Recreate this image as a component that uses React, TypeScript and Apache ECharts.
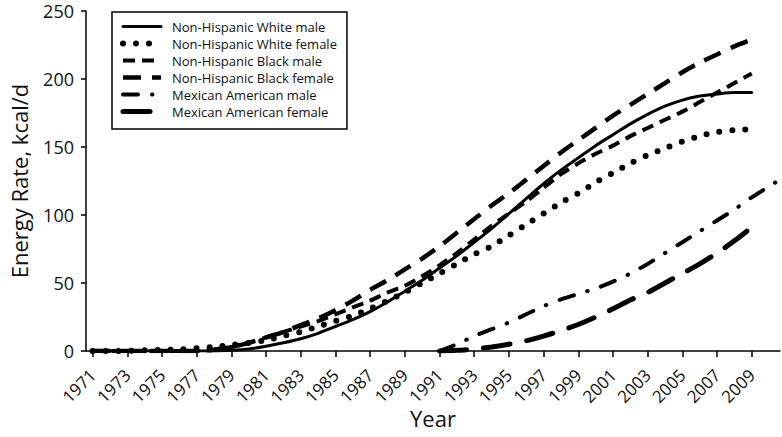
import React, { useEffect, useRef } from "react";
import * as echarts from "echarts";

const years = [1971,1972,1973,1974,1975,1976,1977,1978,1979,1980,1981,1982,1983,1984,1985,1986,1987,1988,1989,1990,1991,1992,1993,1994,1995,1996,1997,1998,1999,2000,2001,2002,2003,2004,2005,2006,2007,2008,2009];
const maleMaYears = [1991,1992,1993,1994,1995,1996,1997,1998,1999,2000,2001,2002,2003,2004,2005,2006,2007,2008,2009,2010,2011];
const femaleMaYears = [1991,1992,1993,1994,1995,1996,1997,1998,1999,2000,2001,2002,2003,2004,2005,2006,2007,2008,2009];

const nhwMale = [0,0,0,0,0,0,0,0,0.5,1.5,3.5,6,9,13,18,23,29,36,44,52,61,70,80,90,101,112,123,133,142,151,159,167,174,180,184.5,187.5,189,190,190];
const nhwFemale = [0,0,0.2,0.5,0.8,1.2,2,3,4.5,6,8,11,14,18,22,26,31,37,43,50,57,64,71,77,85,93,101,109,116,124,131,138,144,149,154,158,161,162.5,163];
const nhbMale = [0,0,0,0,0,0,0,1,3,6,10,14,18,22,27,32,37,43,48,55,63,72,82,92,101,110,120,130,138,145,151,158,164,170,176,183,190,197,204];
const nhbFemale = [0,0,0,0,0,0,0,1,3,6,10,14,19,24,30,37,45,52,60,68,77,87,97,107,116,126,136,146,155,164,173,181,189,197,205,212,218,224,229];
const maMale = [0,5,11,16,21,27,33,38,42,46,51,57,64,72,80,88,96,104,113,121,129];
const maFemale = [0,0.5,1.5,3,5,7.5,11,15,19.5,25,31,37.5,43,50,57,64,72,81,91];

const tickYears = [1971,1973,1975,1977,1979,1981,1983,1985,1987,1989,1991,1993,1995,1997,1999,2001,2003,2005,2007,2009];
const seriesNames = [
  "Non-Hispanic White male",
  "Non-Hispanic White female",
  "Non-Hispanic Black male",
  "Non-Hispanic Black female",
  "Mexican American male",
  "Mexican American female",
];

const FONT = "'Open Sans', 'Noto Sans', sans-serif";

function pairs(xs: number[], ys: number[]) {
  return xs.map((x, i) => [x, ys[i]]);
}

export default function App() {
  const ref = useRef<HTMLDivElement>(null);
  useEffect(() => {
    if (!ref.current) return;
    const chart = echarts.init(ref.current, undefined, { renderer: "svg" });
    const styles: any[] = [
      { width: 3, type: "solid", cap: "round" },
      { width: 6, type: [0, 13], cap: "round" },
      { width: 4, type: [12, 7], cap: "butt" },
      { width: 4.5, type: [18, 11], cap: "butt" },
      { width: 4, type: [15, 14, 0.5, 14], cap: "round" },
      { width: 5, type: [27, 17], cap: "round" },
    ];
    const datasets = [
      pairs(years, nhwMale),
      pairs(years, nhwFemale),
      pairs(years, nhbMale),
      pairs(years, nhbFemale),
      pairs(maleMaYears, maMale),
      pairs(femaleMaYears, maFemale),
    ];
    chart.setOption({
      animation: false,
      backgroundColor: "#fff",
      grid: { left: 77, right: 2, top: 11, bottom: 86 },
      legend: {
        orient: "vertical",
        left: 112,
        top: 12,
        padding: [8, 10, 11, 8],
        borderColor: "#000",
        borderWidth: 1.5,
        itemWidth: 38,
        itemHeight: 14,
        itemGap: 4,
        itemStyle: { opacity: 0 },
        lineStyle: { width: "inherit" },
        data: seriesNames,
        textStyle: { fontFamily: FONT, fontSize: 13, color: "#111", padding: [0, 0, 0, 6] },
      },
      xAxis: {
        type: "value",
        min: 1970.62,
        max: 2010.63,
        name: "Year",
        nameLocation: "middle",
        nameGap: 56,
        nameMoveOverlap: false,
        nameTextStyle: { fontFamily: FONT, fontSize: 22, color: "#111" },
        axisLine: { lineStyle: { color: "#000", width: 1.5 } },
        axisTick: { show: true, length: 6, customValues: tickYears, lineStyle: { color: "#000", width: 1.5 } },
        axisLabel: {
          customValues: tickYears,
          rotate: 45,
          margin: 21,
          fontFamily: FONT,
          fontSize: 17,
          color: "#111",
          formatter: (v: number) => String(Math.round(v)),
        },
        splitLine: { show: false },
      },
      yAxis: {
        type: "value",
        min: 0,
        max: 250,
        interval: 50,
        name: "Energy Rate, kcal/d",
        nameLocation: "middle",
        nameGap: 56,
        nameMoveOverlap: false,
        nameTextStyle: { fontFamily: FONT, fontSize: 22, color: "#111" },
        axisLine: { show: true, lineStyle: { color: "#000", width: 1.5 } },
        axisTick: { show: true, length: 5, lineStyle: { color: "#000", width: 1.5 } },
        axisLabel: { margin: 12, fontFamily: FONT, fontSize: 18, color: "#111" },
        splitLine: { show: false },
      },
      series: seriesNames.map((name, i) => ({
        name,
        type: "line",
        data: datasets[i],
        smooth: 0.3,
        symbol: "none",
        showSymbol: false,
        clip: true,
        color: "#000",
        lineStyle: { color: "#000", ...styles[i] },
      })),
    });
    return () => chart.dispose();
  }, []);
  return (
    <div
      ref={ref}
      style={{ position: "fixed", left: 0, top: 0, width: 782, height: 437 }}
    />
  );
}
